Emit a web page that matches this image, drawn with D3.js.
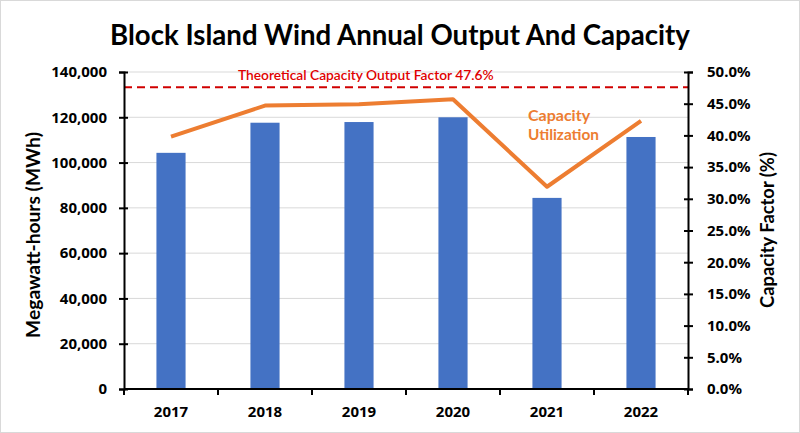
<!DOCTYPE html>
<html><head><meta charset="utf-8">
<script src="https://cdn.jsdelivr.net/npm/d3@7"></script>
<style>
body{margin:0;background:#fff;}
svg{display:block;font-family:Lato,"Noto Sans",sans-serif;}
.tk text{font-family:"Noto Sans","Open Sans",sans-serif;font-weight:700;font-size:15px;fill:#000;}
</style></head>
<body><svg id="c" width="800" height="433"></svg>
<script>
const years = ["2017","2018","2019","2020","2021","2022"];
const outputMWh = [104300, 117600, 117900, 120000, 84400, 111300];
const capacityFactor = [39.8, 44.7, 44.9, 45.7, 31.9, 42.3];
const theoreticalFactor = 47.6;
const leftTicks = [0,20000,40000,60000,80000,100000,120000,140000];
const rightTicks = [0,5,10,15,20,25,30,35,40,45,50];

const svg = d3.select("#c");
const W=800,H=433;
const m={l:124,r:688,t:72,b:389};

function fit(sel, target){
  const n = sel.node();
  const fs = +sel.attr("font-size");
  const w = n.getComputedTextLength();
  if (w>0) sel.attr("font-size", fs*target/w);
  return sel;
}

svg.append("rect").attr("x",0.5).attr("y",0.5).attr("width",W-1).attr("height",H-1)
  .attr("fill","#fff").attr("stroke","#d9d9d9");

const x = d3.scaleBand().domain(years).range([m.l,m.r]).paddingInner(0.69).paddingOuter(0.345);
const xb = d3.scaleBand().domain(years).range([m.l,m.r]);
const yL = d3.scaleLinear().domain([0,140000]).range([m.b,m.t]);
const yR = d3.scaleLinear().domain([0,50]).range([m.b,m.t]);

svg.append("g").selectAll("line").data(leftTicks.slice(1)).join("line")
  .attr("x1",m.l).attr("x2",m.r).attr("y1",d=>yL(d)).attr("y2",d=>yL(d))
  .attr("stroke","#d9d9d9").attr("stroke-width",1);

svg.append("g").selectAll("rect").data(years).join("rect")
  .attr("x",d=>x(d)).attr("width",x.bandwidth())
  .attr("y",(d,i)=>yL(outputMWh[i])).attr("height",(d,i)=>yL(0)-yL(outputMWh[i]))
  .attr("fill","#4472c4");

svg.append("line").attr("x1",m.l).attr("x2",m.r)
  .attr("y1",yR(theoreticalFactor)).attr("y2",yR(theoreticalFactor))
  .attr("stroke","#d00000").attr("stroke-width",2).attr("stroke-dasharray","8,5");
fit(svg.append("text").attr("x",238).attr("y",80).attr("fill","#e00000")
  .attr("font-size",13).attr("font-weight",600)
  .text("Theoretical Capacity Output Factor " + theoreticalFactor + "%"), 256);

const line = d3.line().x((d,i)=>xb(years[i])+xb.bandwidth()/2).y(d=>yR(d));
svg.append("path").datum(capacityFactor).attr("d",line)
  .attr("fill","none").attr("stroke","#ed7d31").attr("stroke-width",4)
  .attr("stroke-linejoin","round");

svg.append("text").attr("x",528).attr("y",121).attr("fill","#ed7d31")
  .attr("font-size",16).attr("font-weight",700).text("Capacity");
fit(svg.append("text").attr("x",528).attr("y",140).attr("fill","#ed7d31")
  .attr("font-size",16).attr("font-weight",700).text("Utilization"), 71);

const fmt = d3.format(",");
const gL = svg.append("g").attr("class","tk").attr("transform",`translate(${m.l},0)`)
  .call(d3.axisLeft(yL).tickValues(leftTicks).tickFormat(fmt).tickSize(5).tickPadding(12));
const gR = svg.append("g").attr("class","tk").attr("transform",`translate(${m.r},0)`)
  .call(d3.axisRight(yR).tickValues(rightTicks).tickFormat(d=>d.toFixed(1)+"%").tickSize(5).tickPadding(14));
const gB = svg.append("g").attr("class","tk").attr("transform",`translate(0,${m.b})`)
  .call(d3.axisBottom(xb).tickSize(0).tickPadding(17));
gB.selectAll("line.bt").data(d3.range(years.length+1)).join("line").attr("class","bt")
  .attr("x1",i=>m.l+i*xb.step()).attr("x2",i=>m.l+i*xb.step()).attr("y1",0).attr("y2",6)
  .attr("stroke","#000").attr("stroke-width",2);

[gL,gR,gB].forEach(g=>{
  g.select(".domain").attr("stroke","#000").attr("stroke-width",2);
  g.selectAll(".tick line").attr("stroke","#000").attr("stroke-width",2);
});
gL.selectAll(".tick line").attr("x1",4);
gR.selectAll(".tick line").attr("x1",-4);
gB.select(".domain").attr("d",`M${m.l},0H${m.r}`);

fit(svg.append("text").attr("transform","translate(40,235) rotate(-90)")
  .attr("text-anchor","middle").attr("font-size",17).attr("font-weight",700).text("Megawatt-hours (MWh)"), 206);
fit(svg.append("text").attr("transform","translate(774,230) rotate(-90)")
  .attr("text-anchor","middle").attr("font-size",17).attr("font-weight",700).text("Capacity Factor (%)"), 156);

fit(svg.append("text").attr("x",400).attr("y",45).attr("text-anchor","middle")
  .attr("font-size",26).attr("font-weight",700).text("Block Island Wind Annual Output And Capacity"), 580);
</script></body></html>
